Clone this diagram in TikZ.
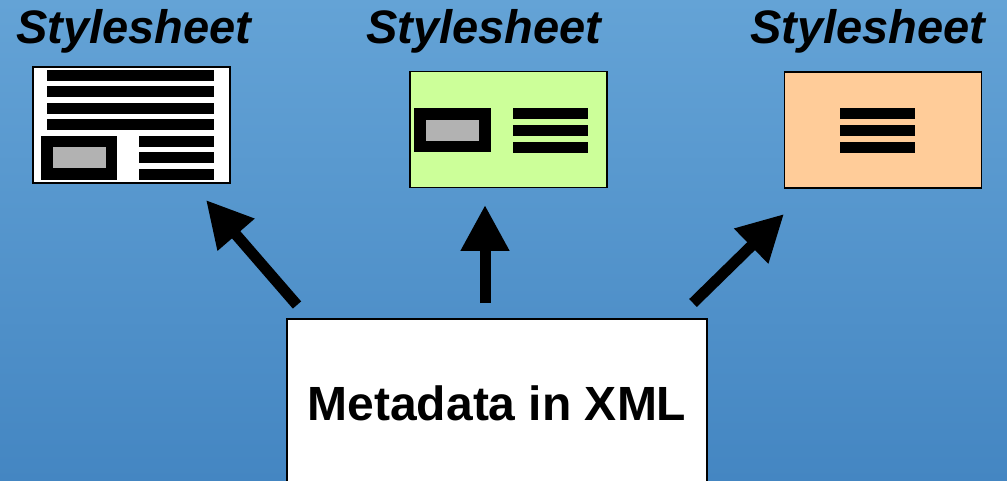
\documentclass[tikz,border=0pt]{standalone}
\usepackage{fontspec}
\setmainfont{Liberation Sans}
\usetikzlibrary{arrows.meta}
\definecolor{ciel}{RGB}{100,163,214}
\definecolor{mer}{RGB}{68,134,194}
\definecolor{vert}{RGB}{204,255,153}
\definecolor{peche}{RGB}{255,204,153}
\definecolor{gris}{RGB}{178,178,178}
\begin{document}
\begin{tikzpicture}[x=1pt,y=-1pt,
  sheet/.style={draw=black, line width=1.3pt, inner sep=0pt, minimum width=197pt, minimum height=116pt},
  titre/.style={anchor=base, font=\fontsize{47}{50}\selectfont\bfseries\itshape},
  fleche/.style={line width=11pt, -{Triangle[length=46pt,width=46pt]}}]
% Fond
\shade[top color=ciel, bottom color=mer] (0,0) rectangle (1007,481);
\useasboundingbox (0,0) rectangle (1007,481);
% Titres
\node[titre] (t1) at (134,44) {Stylesheet};
\node[titre] (t2) at (484,44) {Stylesheet};
\node[titre] (t3) at (868,44) {Stylesheet};
% Feuille 1
\node[sheet, fill=white] (s1) at (131.5,125) {};
\foreach \y in {70,86.5,103,119.5}
  \fill (47,\y) rectangle (214,\y+11);
\fill (41,136) rectangle (117,180);
\fill[gris] (53,147) rectangle (106,168);
\foreach \y in {136,152.5,169}
  \fill (139,\y) rectangle (214,\y+11);
% Feuille 2
\node[sheet, fill=vert] (s2) at (508.5,129.5) {};
\fill (414,108) rectangle (491,152);
\fill[gris] (426,120) rectangle (479,141);
\foreach \y in {108,125,142}
  \fill (513,\y) rectangle (588,\y+11);
% Feuille 3
\node[sheet, fill=peche] (s3) at (883,130) {};
\foreach \y in {108,125,142}
  \fill (840,\y) rectangle (915,\y+11);
% Metadonnees
\node[draw=black, line width=1.3pt, fill=white, minimum width=420pt, minimum height=168pt,
  font=\fontsize{48}{52}\selectfont\bfseries] (meta) at (497,403) {Metadata in XML};
% Fleches
\coordinate (q1) at (297,305);
\coordinate (p1) at (206,200);
\coordinate (q2) at (485,303);
\coordinate (p2) at (485,205);
\coordinate (q3) at (693,303);
\coordinate (p3) at (784,214);
\draw[fleche] (q1) -- (p1);
\draw[fleche] (q2) -- (p2);
\draw[fleche] (q3) -- (p3);
\end{tikzpicture}
\end{document}
